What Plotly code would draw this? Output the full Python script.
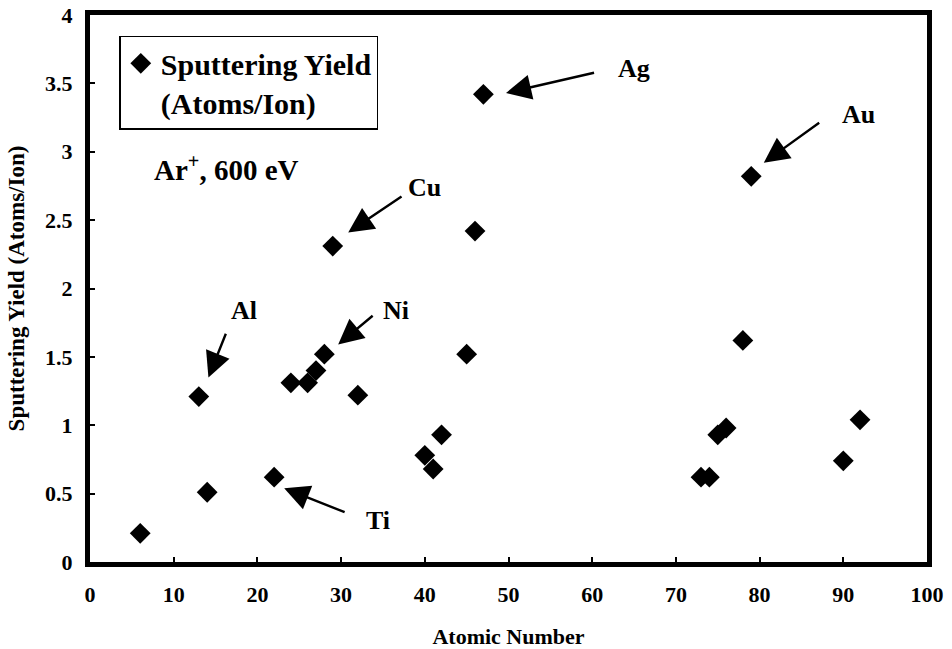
import plotly.graph_objects as go

# Atomic number vs sputtering yield (Ar+, 600 eV)
atomic_number = [6, 13, 14, 22, 24, 26, 27, 28, 29, 32, 40, 41, 42, 45, 46, 47,
                 73, 74, 75, 76, 78, 79, 90, 92]
sputter_yield = [0.21, 1.21, 0.51, 0.62, 1.31, 1.31, 1.40, 1.52, 2.31, 1.22, 0.78, 0.68,
                 0.93, 1.52, 2.42, 3.42, 0.62, 0.62, 0.93, 0.98, 1.62, 2.82, 0.74, 1.04]

x_ticks = [0, 10, 20, 30, 40, 50, 60, 70, 80, 90, 100]
y_ticks = [0, 0.5, 1, 1.5, 2, 2.5, 3, 3.5, 4]
y_tick_text = ["0", "0.5", "1", "1.5", "2", "2.5", "3", "3.5", "4"]

# element labels: name, label position, arrow tip, arrow tail (data coords)
labels = ["Al", "Ni", "Ti", "Cu", "Ag", "Au"]
label_x = [18.4, 36.5, 34.4, 40.0, 65.0, 91.8]
label_y = [1.84, 1.84, 0.30, 2.735, 3.61, 3.27]
tip_x = [14.15, 29.65, 23.2, 30.85, 49.7, 80.5]
tip_y = [1.35, 1.59, 0.54, 2.41, 3.43, 2.92]
tail_x = [16.3, 33.95, 30.6, 37.4, 60.4, 87.3]
tail_y = [1.68, 1.81, 0.36, 2.68, 3.58, 3.22]

SERIF = "Liberation Serif"

fig = go.Figure()
fig.add_trace(go.Scatter(
    x=atomic_number, y=sputter_yield, mode="markers",
    name="Sputtering Yield<br>(Atoms/Ion)",
    marker=dict(symbol="diamond", size=16, color="black"),
    showlegend=True,
))

annotations = []
for name, lx, ly in zip(labels, label_x, label_y):
    annotations.append(dict(
        x=lx, y=ly, xref="x", yref="y", text=name, showarrow=False,
        font=dict(family=SERIF, size=26, color="black", weight="bold"),
        xanchor="center", yanchor="middle",
    ))
for hx, hy, tx, ty in zip(tip_x, tip_y, tail_x, tail_y):
    annotations.append(dict(
        x=hx, y=hy, xref="x", yref="y", ax=tx, ay=ty, axref="x", ayref="y",
        text="", showarrow=True, arrowhead=2, arrowsize=2.1, arrowwidth=2.4,
        arrowcolor="black", standoff=0, startstandoff=0,
    ))
annotations.append(dict(
    x=16.3, y=2.88, xref="x", yref="y", text="Ar<sup>+</sup>, 600 eV",
    showarrow=False, font=dict(family=SERIF, size=29, color="black", weight="bold"),
    xanchor="center", yanchor="middle",
))

fig.update_layout(
    width=952, height=649,
    margin=dict(l=90, r=25, t=15, b=87, autoexpand=False),
    paper_bgcolor="white", plot_bgcolor="white",
    annotations=annotations,
    showlegend=True,
    legend=dict(
        x=0.035, y=0.962, xanchor="left", yanchor="top",
        bgcolor="white", bordercolor="black", borderwidth=1.5,
        font=dict(family=SERIF, size=30, color="black", weight="bold"),
        valign="top",
    ),
    xaxis=dict(
        range=[0, 100], tickvals=x_ticks, ticktext=[str(v) for v in x_ticks],
        automargin=False,
        showgrid=False, zeroline=False, showline=True, linecolor="black", linewidth=5,
        mirror=True, ticks="inside", ticklen=5, tickwidth=1.5, tickcolor="black",
        tickfont=dict(family=SERIF, size=22, color="black", weight="bold"),
        ticklabelstandoff=9,
        title=dict(text="Atomic Number", standoff=29,
                   font=dict(family=SERIF, size=22, color="black", weight="bold")),
    ),
    yaxis=dict(
        range=[0, 4], tickvals=y_ticks, ticktext=y_tick_text,
        automargin=False,
        showgrid=False, zeroline=False, showline=True, linecolor="black", linewidth=5,
        mirror=True, ticks="inside", ticklen=5, tickwidth=1.5, tickcolor="black",
        tickfont=dict(family=SERIF, size=22, color="black", weight="bold"),
        ticklabelstandoff=8,
        title=dict(text="Sputtering Yield (Atoms/Ion)", standoff=16,
                   font=dict(family=SERIF, size=23, color="black", weight="bold")),
    ),
)

fig.write_html("out.html")
